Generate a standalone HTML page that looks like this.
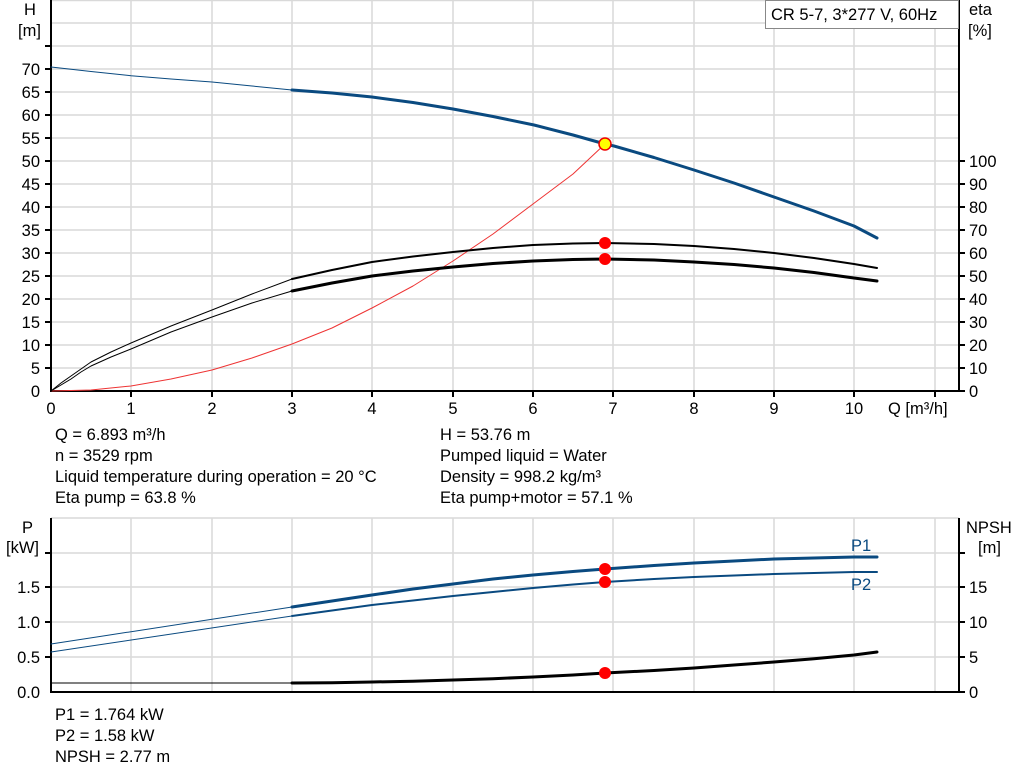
<!DOCTYPE html><html><head><style>body{margin:0;background:#fff}svg{display:block;font-family:"Liberation Sans",sans-serif}</style></head><body>
<svg width="1024" height="781" viewBox="0 0 1024 781">
<g stroke="#d9d9d9" stroke-width="1.5">
<line x1="131" y1="0" x2="131" y2="390"/><line x1="212" y1="0" x2="212" y2="390"/><line x1="292" y1="0" x2="292" y2="390"/><line x1="372" y1="0" x2="372" y2="390"/><line x1="453" y1="0" x2="453" y2="390"/><line x1="533" y1="0" x2="533" y2="390"/><line x1="613" y1="0" x2="613" y2="390"/><line x1="694" y1="0" x2="694" y2="390"/><line x1="774" y1="0" x2="774" y2="390"/><line x1="854" y1="0" x2="854" y2="390"/><line x1="935" y1="0" x2="935" y2="390"/>
<line x1="51" y1="23" x2="959" y2="23"/><line x1="51" y1="46" x2="959" y2="46"/><line x1="51" y1="69" x2="959" y2="69"/><line x1="51" y1="92" x2="959" y2="92"/><line x1="51" y1="115" x2="959" y2="115"/><line x1="51" y1="138" x2="959" y2="138"/><line x1="51" y1="161" x2="959" y2="161"/><line x1="51" y1="184" x2="959" y2="184"/><line x1="51" y1="207" x2="959" y2="207"/><line x1="51" y1="230" x2="959" y2="230"/><line x1="51" y1="253" x2="959" y2="253"/><line x1="51" y1="276" x2="959" y2="276"/><line x1="51" y1="299" x2="959" y2="299"/><line x1="51" y1="322" x2="959" y2="322"/><line x1="51" y1="345" x2="959" y2="345"/><line x1="51" y1="368" x2="959" y2="368"/>
<line x1="131" y1="518" x2="131" y2="692"/><line x1="212" y1="518" x2="212" y2="692"/><line x1="292" y1="518" x2="292" y2="692"/><line x1="372" y1="518" x2="372" y2="692"/><line x1="453" y1="518" x2="453" y2="692"/><line x1="533" y1="518" x2="533" y2="692"/><line x1="613" y1="518" x2="613" y2="692"/><line x1="694" y1="518" x2="694" y2="692"/><line x1="774" y1="518" x2="774" y2="692"/><line x1="854" y1="518" x2="854" y2="692"/><line x1="935" y1="518" x2="935" y2="692"/>
<line x1="51" y1="553" x2="959" y2="553"/><line x1="51" y1="587" x2="959" y2="587"/><line x1="51" y1="622" x2="959" y2="622"/><line x1="51" y1="657" x2="959" y2="657"/>
<line x1="51" y1="0.5" x2="959" y2="0.5"/><line x1="51" y1="518" x2="959" y2="518"/>
</g>
<g stroke="#000" stroke-width="2" fill="none">
<path d="M51 0V391H959V0"/><path d="M51 518V692H959V518"/>
</g>
<g stroke="#000" stroke-width="2">
<line x1="45" y1="46" x2="51" y2="46"/><line x1="45" y1="69" x2="51" y2="69"/><line x1="45" y1="92" x2="51" y2="92"/><line x1="45" y1="115" x2="51" y2="115"/><line x1="45" y1="138" x2="51" y2="138"/><line x1="45" y1="161" x2="51" y2="161"/><line x1="45" y1="184" x2="51" y2="184"/><line x1="45" y1="207" x2="51" y2="207"/><line x1="45" y1="230" x2="51" y2="230"/><line x1="45" y1="253" x2="51" y2="253"/><line x1="45" y1="276" x2="51" y2="276"/><line x1="45" y1="299" x2="51" y2="299"/><line x1="45" y1="322" x2="51" y2="322"/><line x1="45" y1="345" x2="51" y2="345"/><line x1="45" y1="368" x2="51" y2="368"/>
<line x1="959" y1="161" x2="965" y2="161"/><line x1="959" y1="184" x2="965" y2="184"/><line x1="959" y1="207" x2="965" y2="207"/><line x1="959" y1="230" x2="965" y2="230"/><line x1="959" y1="253" x2="965" y2="253"/><line x1="959" y1="276" x2="965" y2="276"/><line x1="959" y1="299" x2="965" y2="299"/><line x1="959" y1="322" x2="965" y2="322"/><line x1="959" y1="345" x2="965" y2="345"/><line x1="959" y1="368" x2="965" y2="368"/><line x1="959" y1="391" x2="965" y2="391"/>
<line x1="45" y1="553" x2="51" y2="553"/><line x1="45" y1="587" x2="51" y2="587"/><line x1="45" y1="622" x2="51" y2="622"/><line x1="45" y1="657" x2="51" y2="657"/>
<line x1="959" y1="553" x2="965" y2="553"/><line x1="959" y1="587" x2="965" y2="587"/><line x1="959" y1="622" x2="965" y2="622"/><line x1="959" y1="657" x2="965" y2="657"/><line x1="959" y1="692" x2="965" y2="692"/>
<line x1="131" y1="391" x2="131" y2="397"/><line x1="212" y1="391" x2="212" y2="397"/><line x1="292" y1="391" x2="292" y2="397"/><line x1="372" y1="391" x2="372" y2="397"/><line x1="453" y1="391" x2="453" y2="397"/><line x1="533" y1="391" x2="533" y2="397"/><line x1="613" y1="391" x2="613" y2="397"/><line x1="694" y1="391" x2="694" y2="397"/><line x1="774" y1="391" x2="774" y2="397"/><line x1="854" y1="391" x2="854" y2="397"/><line x1="935" y1="391" x2="935" y2="397"/>
</g>
<g font-size="16.5" fill="#000" text-anchor="end">
<text x="40" y="75">70</text><text x="40" y="98">65</text><text x="40" y="121">60</text><text x="40" y="144">55</text><text x="40" y="167">50</text><text x="40" y="190">45</text><text x="40" y="213">40</text><text x="40" y="236">35</text><text x="40" y="259">30</text><text x="40" y="282">25</text><text x="40" y="305">20</text><text x="40" y="328">15</text><text x="40" y="351">10</text><text x="40" y="374">5</text><text x="40" y="397">0</text>
<text x="40" y="593">1.5</text><text x="40" y="628">1.0</text><text x="40" y="663">0.5</text><text x="40" y="698">0.0</text>
</g>
<g font-size="16.5" fill="#000">
<text x="969" y="167">100</text><text x="969" y="190">90</text><text x="969" y="213">80</text><text x="969" y="236">70</text><text x="969" y="259">60</text><text x="969" y="282">50</text><text x="969" y="305">40</text><text x="969" y="328">30</text><text x="969" y="351">20</text><text x="969" y="374">10</text><text x="969" y="397">0</text>
<text x="969" y="593">15</text><text x="969" y="628">10</text><text x="969" y="663">5</text><text x="969" y="698">0</text>
<text x="969" y="15">eta</text><text x="968" y="36">[%]</text>
<text x="966" y="533">NPSH</text><text x="978" y="553">[m]</text>
<text x="24" y="15">H</text><text x="18" y="36">[m]</text>
<text x="22" y="533">P</text><text x="6" y="553">[kW]</text>
<text x="888" y="414">Q [m³/h]</text>
</g>
<g font-size="16.5" text-anchor="middle">
<text x="51" y="414">0</text><text x="131" y="414">1</text><text x="212" y="414">2</text><text x="292" y="414">3</text><text x="372" y="414">4</text><text x="453" y="414">5</text><text x="533" y="414">6</text><text x="613" y="414">7</text><text x="694" y="414">8</text><text x="774" y="414">9</text><text x="854" y="414">10</text>
</g>
<rect x="765.5" y="0.5" width="193" height="28" fill="#fff" stroke="#888"/>
<text x="771" y="20" font-size="16.5">CR 5-7, 3*277 V, 60Hz</text>
<g fill="none" stroke-linecap="round" stroke-linejoin="round">
<polyline stroke="#e33" stroke-width="1" points="51,391 91,390 131,386 171,379 212,370 252,358 292,344 332,328 372,308 413,286 453,261 493,234 533,204 573,174 605,144"/>
<polyline stroke="#0a4a80" stroke-width="1" points="51,67 91,71.5 131,75.7 171,79 212,82 252,86 292,90"/>
<polyline stroke="#0a4a80" stroke-width="3" points="292,90 332,93 372,97 413,102.5 453,109 493,116.5 534,125 573,135 605,144 614,146 654,157.5 694,170 734,183 774,197 814,211 854,226 877,238"/>
<polyline stroke="#000" stroke-width="1" points="51,391 61,383 71,376 81,369 91,362 111,352 131,343 171,326 212,310 252,294 292,279"/>
<polyline stroke="#000" stroke-width="2" points="292,279 332,270 372,262 413,256.5 453,252 493,248 533,245 573,243.5 605,243 654,244 694,246 734,249 774,253 814,258 854,264 877,268"/>
<polyline stroke="#000" stroke-width="1" points="51,391 61,385 71,379 81,372 91,366 111,357 131,349 171,332 212,317 252,303 292,291"/>
<polyline stroke="#000" stroke-width="3" points="292,291 332,283 372,276 413,271 453,267 493,263.5 533,261 573,259.5 605,259 654,260 694,262 734,264.5 774,268 814,272.5 854,278 877,281"/>
<polyline stroke="#0a4a80" stroke-width="1" points="51,644 292,607"/>
<polyline stroke="#0a4a80" stroke-width="3" points="292,607 332,601 372,595 413,589 453,584 493,579 533,575 573,571.5 605,569 654,565.5 694,563 734,561 774,559 814,558 854,557 877,557"/>
<polyline stroke="#0a4a80" stroke-width="1" points="51,652 292,616"/>
<polyline stroke="#0a4a80" stroke-width="2" points="292,616 332,610.5 372,605 413,600.5 453,596 493,592 533,588 573,584.5 605,582 654,579 694,577 734,575.5 774,574 814,573 854,572 877,572"/>
<polyline stroke="#000" stroke-width="1" points="51,683 292,683"/>
<polyline stroke="#000" stroke-width="3" points="292,683 332,682.7 372,682 413,681.2 453,680 493,678.7 533,677 573,675 605,673 654,670.5 694,668 734,665 774,662 814,658.7 854,655 877,652"/>
</g>
<circle cx="605" cy="144" r="6" fill="#ff0" stroke="#e00" stroke-width="1.5"/>
<g fill="#f00"><circle cx="605" cy="243" r="6"/><circle cx="605" cy="259" r="6"/><circle cx="605" cy="569" r="6"/><circle cx="605" cy="582" r="6"/><circle cx="605" cy="673" r="6"/></g>
<g font-size="16.5" fill="#0a4a80"><text x="851" y="551">P1</text><text x="851" y="590">P2</text></g>
<g font-size="16.5" fill="#000">
<text x="55" y="440">Q = 6.893 m³/h</text><text x="55" y="461">n = 3529 rpm</text><text x="55" y="482">Liquid temperature during operation = 20 °C</text><text x="55" y="503">Eta pump = 63.8 %</text>
<text x="440" y="440">H = 53.76 m</text><text x="440" y="461">Pumped liquid = Water</text><text x="440" y="482">Density = 998.2 kg/m³</text><text x="440" y="503">Eta pump+motor = 57.1 %</text>
<text x="55" y="720">P1 = 1.764 kW</text><text x="55" y="741">P2 = 1.58 kW</text><text x="55" y="762">NPSH = 2.77 m</text>
</g>
</svg></body></html>
